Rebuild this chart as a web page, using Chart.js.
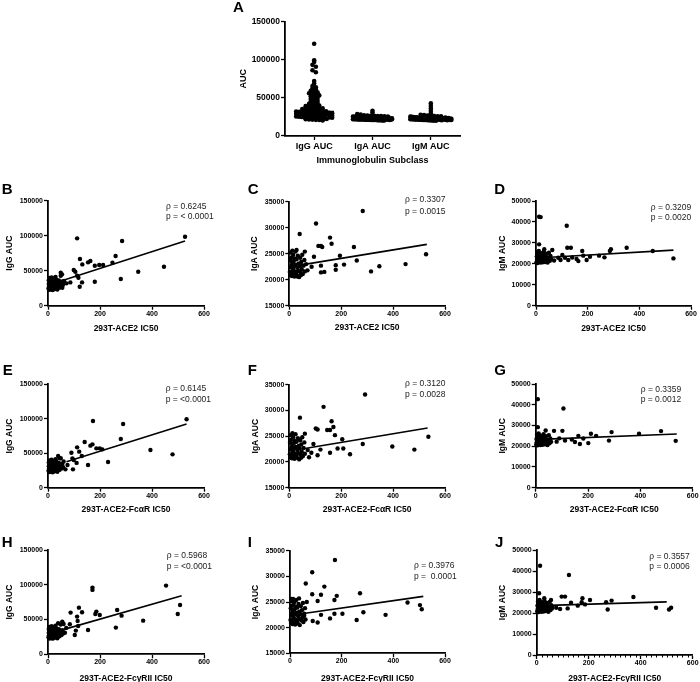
<!DOCTYPE html>
<html><head><meta charset="utf-8">
<script src="https://cdn.jsdelivr.net/npm/chart.js@4.4.1/dist/chart.umd.min.js"></script>
<style>html,body{margin:0;padding:0;background:#fff;}body{width:700px;height:682px;position:relative;overflow:hidden;}canvas{position:absolute;left:0;top:0;}</style>
</head><body>
<script>
// ---------- DATA ----------
const categories = ['IgG AUC', 'IgA AUC', 'IgM AUC'];
const aIgG = [121000,99500,97200,93400,90800,86200,83600,72100,69000,65600,63900,62300,60800,59400,58100,57300,56200,55400,54100,53300,52200,51100,49800,48700,47600,46100,45300,44200,43400,42300,41700,40600,39900,39200,38400,37900,37100,36600,36200,35400,35100,34600,34200,33700,33300,32800,32500,32100,31700,31400,31000,30700,30400,30100,29800,29600,29300,29000,28700,28500,28200,27900,27600,27300,27100,26800,26500,26300,26000,25700,25500,25200,24900,24700,24400,24100,23800,23600,23300,23000,22700,22400,22100,21800,21500,21200,20900,20500,27200,28900,30300,25900,24200,26700,29900,23900];
const aIgA = [33200,30800,28800,28100,27200,26900,26600,26400,26300,26100,25800,25600,25500,25300,25100,24900,24800,24600,24500,24300,24200,24000,23900,23800,23600,23500,23400,23200,23100,23000,22900,22800,22700,22600,22500,22400,22400,22300,22200,22100,22000,22000,21900,21800,21800,21700,21600,21600,21500,21400,21400,21300,21200,21200,21100,21000,21000,20900,20800,20800,20700,20600,20500,20400,22600,22900,23300,21700,22200,21900,22500,23700,24100,21500,20900,22300,22800,23100,21300,22000];
const aIgM = [42800,39300,36200,32900,29700,27900,27400,27000,26600,26200,26000,25700,25400,25100,24800,24600,24400,24100,23900,23700,23500,23300,23200,23000,22900,22700,22600,22500,22400,22300,22200,22100,22000,21900,21800,21700,21600,21500,21400,21300,21200,21100,21000,20900,20800,20700,20600,20500,20400,20300,20200,22800,23100,21900,22400,21500,22600,21200,23400,20800,22000,21700,24300,22200,21400,20600,23600,22900,21800,22500,21100,20900];

// low-IC50 clusters (x = IC50, y = AUC)
const igGLow = [[2,24500],[3,31000],[3,36500],[4,27500],[5,22800],[5,39500],[6,33000],[7,29000],[8,25500],[8,35500],[9,38000],[10,23500],[11,31500],[12,27000],[13,34000],[14,40500],[15,24800],[16,29800],[17,36800],[18,22500],[19,32500],[21,26500],[22,38800],[23,30200],[25,23800],[26,34800],[27,28300],[29,41200],[30,25200],[32,31800],[33,37200],[35,27000],[36,23000],[38,33500],[40,29500],[42,36000],[44,25800],[47,31000],[49,42800],[52,27800],[55,34500],[58,29800]];
const igALow = [[2,21500],[3,23800],[4,20900],[5,25200],[6,22400],[7,21200],[8,24300],[9,22800],[10,20700],[11,23300],[12,25600],[13,21800],[14,22100],[15,24800],[16,21000],[17,23600],[18,22600],[20,20600],[21,24100],[22,21600],[24,25400],[25,22900],[27,21300],[28,23900],[30,20800],[31,22300],[33,24600],[35,21700],[36,23100],[38,20500],[40,22600],[42,24200],[44,21400],[46,23400],[48,22000],[50,24800],[52,21100],[55,22700],[58,23800],[60,21600]];
const igMLow = [[2,20800],[3,23500],[4,21900],[5,25500],[6,20400],[7,22700],[8,24200],[9,21300],[10,23000],[11,26200],[12,20900],[13,22300],[14,24700],[15,21600],[16,23600],[18,20600],[19,25100],[20,22000],[22,23300],[23,21200],[25,24400],[26,20700],[28,22800],[30,25800],[31,21500],[33,23900],[35,20900],[37,22500],[39,24800],[41,21800],[43,23200],[45,20600],[48,22200],[50,25300],[53,21400],[56,23700],[59,22100]];

const panelB = [[49,47100],[54,44800],[62,35200],[71,31900],[86,33300],[55,25700],[99,51000],[105,48600],[112,42900],[117,40000],[122,27100],[131,33300],[123,66700],[132,59000],[154,61900],[163,63800],[180,57100],[197,58100],[212,58100],[248,61400],[260,71000],[180,34300],[112,96200],[285,92400],[280,38100],[347,48600],[446,55700],[527,98600]];
const panelC = [[283,33200],[103,30800],[40,28800],[157,28100],[163,26900],[112,26500],[122,26500],[127,26300],[249,26300],[28,25700],[60,25400],[95,24400],[195,24600],[260,23700],[211,22900],[179,22800],[122,22700],[86,22500],[347,22600],[448,23000],[527,24900],[179,21900],[315,21600],[122,21400],[135,21500],[45,20900],[32,20600],[70,21800],[65,23000]];
const panelD = [[12,42500],[18,42300],[119,38200],[12,29300],[121,27700],[135,27700],[32,27000],[63,26600],[351,27700],[286,26100],[290,27000],[244,23900],[265,23100],[452,26100],[532,22600],[179,26100],[183,23900],[157,22300],[164,21300],[196,21800],[209,23400],[102,24200],[112,22900],[125,21800],[86,22900],[70,21600],[95,21800],[140,23000]];
const panelE = [[173,96800],[289,92400],[533,99200],[280,70600],[394,54700],[479,48400],[231,37300],[154,32900],[141,66300],[112,58500],[163,61000],[171,62900],[186,57100],[199,57100],[209,55600],[120,52300],[90,50800],[94,42600],[99,40200],[130,46000],[96,26600],[67,26600],[39,46000],[45,42600],[60,38000],[75,33000],[110,36000]];
const panelF = [[292,33100],[132,30700],[41,28600],[163,27900],[170,26800],[102,26500],[109,26300],[146,26200],[157,26200],[176,25200],[204,24400],[60,25500],[536,24900],[397,23000],[482,22400],[283,23500],[208,22600],[186,22600],[234,21500],[157,21800],[93,23500],[109,21300],[71,22300],[76,20900],[45,20800],[85,21800],[120,22400]];
const panelG = [[8,42700],[106,38200],[8,29200],[38,27600],[102,27400],[280,22700],[290,26800],[395,26000],[479,27300],[535,22600],[211,26000],[231,25000],[163,25000],[169,21100],[201,21500],[182,23700],[138,23200],[112,22700],[80,22200],[70,27400],[90,23800],[150,22000]];
const panelH = [[454,98800],[171,95900],[171,92600],[508,71000],[499,58000],[366,48400],[266,63800],[283,55600],[261,38400],[182,58000],[186,61400],[199,56600],[119,67100],[131,60400],[87,60000],[112,54200],[84,43200],[114,48000],[116,40800],[107,34100],[103,27800],[154,35000],[60,43600],[55,47000],[39,44600],[70,38000],[65,31000]];
const panelI = [[174,33200],[86,30800],[61,28600],[133,28000],[86,26500],[120,26400],[181,26200],[172,25400],[107,25200],[271,26700],[284,23000],[203,22700],[172,22700],[155,21800],[370,22500],[455,24900],[503,24400],[510,23600],[258,21500],[107,21000],[88,21300],[65,25000],[35,25700],[6,25600],[19,25200],[120,22500],[55,22300]];
const panelJ = [[13,42500],[124,38100],[9,29400],[96,27800],[109,27800],[29,27000],[55,26200],[173,25100],[176,27000],[205,26200],[267,25100],[273,21700],[288,25900],[372,27600],[459,22500],[509,21700],[517,22500],[132,24900],[158,23500],[186,24100],[119,22200],[90,21900],[60,23000],[75,22500]];

// regression line end points [x0,y0],[x1,y1]
const fitB = [[32,33300],[527,92300]];
const fitC = [[41,22800],[530,26800]];
const fitD = [[22,22900],[532,26550]];
const fitE = [[71,37700],[533,92400]];
const fitF = [[48,22500],[533,26600]];
const fitG = [[17,23300],[539,25900]];
const fitH = [[32,32600],[514,84300]];
const fitI = [[39,22650],[516,26100]];
const fitJ = [[13,23500],[500,25300]];

const rhoLabels = ['ρ = 0.6245','ρ = 0.3307','ρ = 0.3209','ρ = 0.6145','ρ = 0.3120','ρ = 0.3359','ρ = 0.5968','ρ = 0.3976','ρ = 0.3557'];
const pLabels = ['p = < 0.0001','p = 0.0015','p = 0.0020','p = <0.0001','p = 0.0028','p = 0.0012','p = <0.0001','p =  0.0001','p = 0.0006'];
const xTitles = ['293T-ACE2 IC50','293T-ACE2-FcαR IC50','293T-ACE2-FcγRII IC50'];
const yTitles = ['IgG AUC','IgA AUC','IgM AUC'];

// ---------- LAYOUT ----------
const FONT = "'Liberation Sans', Arial, Helvetica, sans-serif";
Chart.defaults.font.family = FONT;
Chart.defaults.color = '#000';

function addCanvas(){
  const c = document.createElement('canvas');
  c.width = 700; c.height = 682;
  c.style.width = '700px'; c.style.height = '682px';
  document.body.appendChild(c);
  return c;
}
const gridOpts = {display:true, drawOnChartArea:false, drawTicks:true, tickLength:4, tickColor:'#000', tickWidth:1.3, color:'#000'};
const borderOpts = {display:true, color:'#000', width:1.8};

function letterPlugin(d){
  return {id:'txt', afterDraw(chart){
    const ctx = chart.ctx; ctx.save();
    ctx.fillStyle = '#000'; ctx.textBaseline = 'middle'; ctx.textAlign = 'left';
    ctx.font = 'bold 15px ' + FONT;
    ctx.fillText(d.letter, d.lx, d.ly);
    if (d.ann) {
      ctx.font = '8.5px ' + FONT; ctx.fillStyle = '#222';
      ctx.fillText(d.ann[0], d.ax, d.ay[0]);
      ctx.fillText(d.ann[1], d.ax, d.ay[1]);
    }
    if (d.minor) {
      const xs = chart.scales.x; const yb = chart.chartArea.bottom;
      ctx.strokeStyle = '#000'; ctx.lineWidth = 1;
      for (let v = 20; v < 600; v += 20) {
        if (v % 200 === 0) continue;
        const px = Math.round(xs.getPixelForValue(v)) + 0.5;
        ctx.beginPath(); ctx.moveTo(px, yb); ctx.lineTo(px, yb + 2.5); ctx.stroke();
      }
    }
    ctx.restore();
  }};
}

const TICK_FONT = {size:7, weight:'bold'};
const TITLE_FONT = {size:8.5, weight:'bold'};
const TITLE_LH = 8.5 * 1.2;

function scatterPanel(p){
  const W = p.L - (p.yTitleX - TITLE_LH/2);
  const H = p.xTitleY - p.B + TITLE_LH/2;
  const pts = p.low.concat(p.high).map(d => ({x:d[0], y:d[1]}));
  new Chart(addCanvas(), {
    type:'scatter',
    data:{datasets:[
      {data:p.fit.map(d => ({x:d[0], y:d[1]})), showLine:true, borderColor:'#000', borderWidth:1.6, pointRadius:0, fill:false, clip:false},
      {data:pts, pointRadius:2.2, pointBackgroundColor:'#000', pointBorderWidth:0, pointBorderColor:'#000', showLine:false, clip:false}
    ]},
    options:{
      responsive:false, animation:false, devicePixelRatio:1, events:[],
      layout:{padding:{left:p.L - W, top:p.T, right:700 - p.R, bottom:682 - p.B - H}},
      plugins:{legend:{display:false}, tooltip:{enabled:false}},
      scales:{
        x:{type:'linear', position:'bottom', min:0, max:600,
          ticks:{stepSize:200, font:TICK_FONT, color:'#000', padding:0, maxRotation:0, autoSkip:false, callback:v => String(v)},
          grid:gridOpts, border:borderOpts,
          title:{display:true, text:p.xTitle, font:TITLE_FONT, color:'#000', padding:0},
          afterFit(s){ s.height = H; s.paddingLeft = 0; s.paddingRight = 0; }},
        y:{type:'linear', position:'left', min:p.ymin, max:p.ymax,
          ticks:{stepSize:p.ystep, font:TICK_FONT, color:'#000', padding:1, autoSkip:false, callback:v => String(v)},
          grid:gridOpts, border:borderOpts,
          title:{display:true, text:p.yTitle, font:TITLE_FONT, color:'#000', padding:0},
          afterFit(s){ s.width = W; s.paddingTop = 0; s.paddingBottom = 0; }}
      }
    },
    plugins:[letterPlugin(p)]
  });
}

// ---------- PANEL A ----------
(function(){
  const L = 285, T = 21.7, R = 460, B = 136;
  const lh = 9 * 1.2;
  const W = L - (243.3 - lh/2);
  const H = 160.7 - B + lh/2;
  const pxPerY = (B - T) / 150000, pxPerX = (R - L) / 3;
  function swarm(vals, c, span){
    const bins = new Map();
    vals.forEach(v => { const k = Math.round(v * pxPerY / 2.6); if (!bins.has(k)) bins.set(k, []); bins.get(k).push(v); });
    const out = [];
    bins.forEach(list => {
      const n = list.length;
      const s = n > 1 ? Math.min(3.4, span / (n - 1)) : 0;
      list.forEach((v, i) => out.push({x: c + ((i - (n - 1) / 2) * s) / pxPerX, y: v}));
    });
    return out;
  }
  function median(a){ const s = a.slice().sort((p, q) => p - q); const m = s.length >> 1; return s.length % 2 ? s[m] : (s[m - 1] + s[m]) / 2; }
  const series = [aIgG, aIgA, aIgM];
  const spans = [36, 39, 41];
  const datasets = [];
  series.forEach((vals, i) => {
    const md = median(vals);
    datasets.push({data:[{x:i + 1 - 0.34, y:md}, {x:i + 1 + 0.34, y:md}], showLine:true, borderColor:'#000', borderWidth:1.8, pointRadius:0, clip:false});
  });
  series.forEach((vals, i) => {
    datasets.push({data:swarm(vals, i + 1, spans[i]), pointRadius:2.3, pointBackgroundColor:'#000', pointBorderWidth:0, showLine:false, clip:false});
  });
  new Chart(addCanvas(), {
    type:'scatter',
    data:{datasets},
    options:{
      responsive:false, animation:false, devicePixelRatio:1, events:[],
      layout:{padding:{left:L - W, top:T, right:700 - R, bottom:682 - B - H}},
      plugins:{legend:{display:false}, tooltip:{enabled:false}},
      scales:{
        x:{type:'linear', position:'bottom', min:0.5, max:3.5,
          afterBuildTicks(s){ s.ticks = [{value:1}, {value:2}, {value:3}]; },
          ticks:{font:{size:9, weight:'bold'}, color:'#000', padding:1.3, maxRotation:0, autoSkip:false, callback:(v, i) => categories[i]},
          grid:gridOpts, border:borderOpts,
          title:{display:true, text:'Immunoglobulin Subclass', font:{size:9, weight:'bold'}, color:'#000', padding:0},
          afterFit(s){ s.height = H; s.paddingLeft = 0; s.paddingRight = 0; }},
        y:{type:'linear', position:'left', min:0, max:150000,
          ticks:{stepSize:50000, font:{size:8.5, weight:'bold'}, color:'#000', padding:1, autoSkip:false, callback:v => String(v)},
          grid:gridOpts, border:borderOpts,
          title:{display:true, text:'AUC', font:{size:9, weight:'bold'}, color:'#000', padding:0},
          afterFit(s){ s.width = W; s.paddingTop = 0; s.paddingBottom = 0; }}
      }
    },
    plugins:[letterPlugin({letter:'A', lx:233, ly:7.7})]
  });
})();

// ---------- SCATTER PANELS ----------
const panels = [
  {letter:'B', low:igGLow, high:panelB, fit:fitB, L:48, T:200.7, R:204, B:305.7, ymin:0, ymax:150000, ystep:50000, xTitle:xTitles[0], yTitle:yTitles[0], yTitleX:10, xTitleY:329, lx:1.7, ly:190.3, ann:[rhoLabels[0], pLabels[0]], ax:166, ay:[206.7, 216.7]},
  {letter:'C', low:igALow, high:panelC, fit:fitC, L:289.3, T:201.7, R:445, B:305.7, ymin:15000, ymax:35000, ystep:5000, xTitle:xTitles[0], yTitle:yTitles[1], yTitleX:255, xTitleY:327.5, lx:247.7, ly:190.3, ann:[rhoLabels[1], pLabels[1]], ax:405, ay:[200, 211.5]},
  {letter:'D', low:igMLow, high:panelD, fit:fitD, L:536, T:201, R:691, B:305.7, ymin:0, ymax:50000, ystep:10000, xTitle:xTitles[0], yTitle:yTitles[2], yTitleX:502.3, xTitleY:329, lx:494.3, ly:190.3, ann:[rhoLabels[2], pLabels[2]], ax:650.7, ay:[207.7, 217.7]},
  {letter:'E', low:igGLow, high:panelE, fit:fitE, L:48, T:384.3, R:204, B:487.7, ymin:0, ymax:150000, ystep:50000, xTitle:xTitles[1], yTitle:yTitles[0], yTitleX:10, xTitleY:509.3, lx:2.7, ly:371, ann:[rhoLabels[3], pLabels[3]], ax:165.7, ay:[389, 400]},
  {letter:'F', low:igALow, high:panelF, fit:fitF, L:289.3, T:384.7, R:445, B:487.7, ymin:15000, ymax:35000, ystep:5000, xTitle:xTitles[1], yTitle:yTitles[1], yTitleX:255.7, xTitleY:509.3, lx:247.7, ly:371, ann:[rhoLabels[4], pLabels[4]], ax:405, ay:[384, 395]},
  {letter:'G', low:igMLow, high:panelG, fit:fitG, L:535.7, T:384, R:692.7, B:487.7, ymin:0, ymax:50000, ystep:10000, xTitle:xTitles[1], yTitle:yTitles[2], yTitleX:502.3, xTitleY:509.3, lx:494.3, ly:371, ann:[rhoLabels[5], pLabels[5]], ax:640.7, ay:[389.3, 400]},
  {letter:'H', low:igGLow, high:panelH, fit:fitH, L:48, T:550, R:204, B:654.3, ymin:0, ymax:150000, ystep:50000, xTitle:xTitles[2], yTitle:yTitles[0], yTitleX:10, xTitleY:678.3, lx:1.7, ly:543.3, ann:[rhoLabels[6], pLabels[6]], ax:166.7, ay:[556, 566.7]},
  {letter:'I', low:igALow, high:panelI, fit:fitI, L:290, T:550.7, R:445, B:653.3, ymin:15000, ymax:35000, ystep:5000, xTitle:xTitles[2], yTitle:yTitles[1], yTitleX:255.7, xTitleY:678.3, lx:247.7, ly:543.3, ann:[rhoLabels[7], pLabels[7]], ax:414, ay:[566, 576.7]},
  {letter:'J', low:igMLow, high:panelJ, fit:fitJ, L:536.7, T:550, R:692.7, B:655, ymin:0, ymax:50000, ystep:10000, xTitle:xTitles[2], yTitle:yTitles[2], yTitleX:502.7, xTitleY:678.3, lx:495, ly:543.3, ann:[rhoLabels[8], pLabels[8]], ax:649.3, ay:[556.7, 566.7], minor:true}
];
panels.forEach(scatterPanel);
</script>
</body></html>
